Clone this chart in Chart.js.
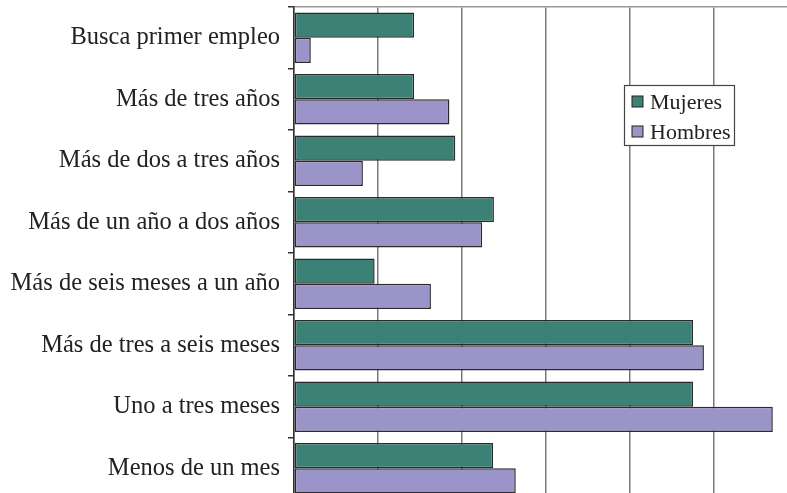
<!DOCTYPE html>
<html>
<head>
<meta charset="utf-8">
<script src="https://cdn.jsdelivr.net/npm/chart.js@4/dist/chart.umd.min.js"></script>
<style>
  html, body { margin: 0; padding: 0; background: #fff; }
  #wrap { width: 787px; height: 493px; overflow: hidden; position: relative; }
</style>
</head>
<body>
<div id="wrap"><canvas id="chart" width="800" height="500"></canvas></div>
<script>
// categories (top to bottom) and the two series
const categorias = [
  'Busca primer empleo',
  'Más de tres años',
  'Más de dos a tres años',
  'Más de un año a dos años',
  'Más de seis meses a un año',
  'Más de tres a seis meses',
  'Uno a tres meses',
  'Menos de un mes'
];
const mujeres = [7.15, 7.15, 9.6, 11.9, 4.8, 23.75, 23.75, 11.85];
const hombres = [1.0, 9.25, 4.1, 11.2, 8.15, 24.4, 28.5, 13.2];

const serif = '"Liberation Serif", "Times New Roman", serif';

// legend drawn as a boxed inset inside the plot
const insetLegend = {
  id: 'insetLegend',
  afterDraw(chart) {
    const ctx = chart.ctx;
    const x = 624, y = 85, w = 110, h = 60;
    ctx.save();
    ctx.fillStyle = '#fff';
    ctx.fillRect(x, y, w, h);
    ctx.strokeStyle = '#444';
    ctx.lineWidth = 1.2;
    ctx.strokeRect(x + 0.5, y + 0.5, w, h);
    ctx.font = '22px ' + serif;
    ctx.textBaseline = 'middle';
    chart.data.datasets.forEach((ds, i) => {
      const cy = y + 17 + i * 30;
      ctx.fillStyle = ds.backgroundColor;
      ctx.fillRect(x + 8, cy - 6, 11, 11);
      ctx.strokeStyle = '#222';
      ctx.lineWidth = 1;
      ctx.strokeRect(x + 8, cy - 6, 11, 11);
      ctx.fillStyle = '#222';
      ctx.fillText(ds.label, x + 26, cy + 1);
    });
    ctx.restore();
  }
};

new Chart(document.getElementById('chart'), {
  type: 'bar',
  data: {
    labels: categorias,
    datasets: [
      { label: 'Mujeres', data: mujeres, backgroundColor: '#3b8176', borderColor: '#2a2a2a', borderWidth: 1.5, borderSkipped: false },
      { label: 'Hombres', data: hombres, backgroundColor: '#9b94c8', borderColor: '#2a2a2a', borderWidth: 1.5, borderSkipped: false }
    ]
  },
  options: {
    indexAxis: 'y',
    responsive: false,
    animation: false,
    layout: { padding: { top: 7, right: 2, bottom: 1, left: 0 } },
    datasets: { bar: { categoryPercentage: 0.82, barPercentage: 1 } },
    plugins: { legend: { display: false }, tooltip: { enabled: false } },
    scales: {
      x: {
        position: 'top',
        min: 0,
        max: 30,
        ticks: { display: false, stepSize: 5 },
        grid: { color: '#7a7a7a', lineWidth: 1.5, drawTicks: false },
        border: { display: true, color: '#9a9a9a', width: 1.5 },
        afterFit: s => { s.height = 0; s.paddingLeft = 0; s.paddingRight = 0; }
      },
      y: {
        ticks: { color: '#222', font: { family: serif, size: 24.5 }, padding: 8 },
        grid: { drawOnChartArea: false, drawTicks: true, tickLength: 6, color: '#333', lineWidth: 1.5 },
        border: { display: true, color: '#333', width: 1.5 },
        afterFit: s => { s.width = 294; s.paddingTop = 0; s.paddingBottom = 0; }
      }
    }
  },
  plugins: [insetLegend]
});
</script>
</body>
</html>
